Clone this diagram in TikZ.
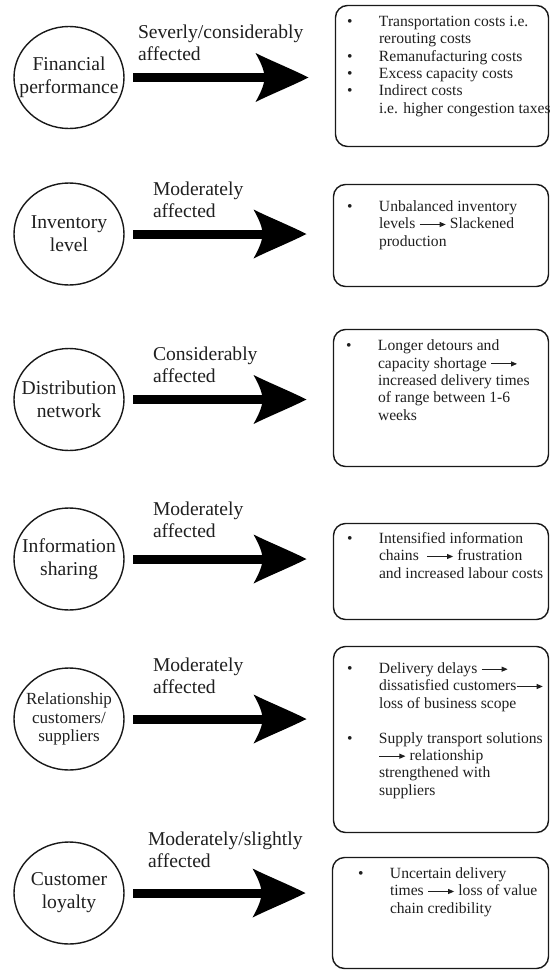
\documentclass[tikz,border=0pt]{standalone}
\usepackage{fontspec}
\setmainfont{Liberation Serif}
\usetikzlibrary{calc,shapes.geometric,arrows.meta}

% small inline arrow used inside the effect lists
\newcommand{\leadsarrow}{\tikz[baseline={-0.27em}]{\draw[line width=0.8pt,-{Triangle[length=6pt,width=5pt]}] (0pt,0pt) -- (26pt,0pt);}}
% bullet item helpers
\newcommand{\itm}{\makebox[32pt][l]{\textbullet}}
\newcommand{\cnt}{\hspace*{32pt}}

\begin{document}
\begin{tikzpicture}[x=1pt,y=-1pt,
  every node/.style={inner sep=0pt, outer sep=0pt, text=black!88},
  topic/.style={draw=black!90, line width=1.4pt, ellipse, minimum width=110pt,
    minimum height=102pt},
  topictext/.style={align=center, font=\fontsize{19.6}{23}\selectfont},
  effectbox/.style={draw=black!90, line width=1.4pt, rounded corners=12pt, rectangle},
  effecttext/.style={anchor=base west, align=left, font=\fontsize{15.6}{17.3}\selectfont},
  degree/.style={anchor=base west, align=left, font=\fontsize{19.6}{22}\selectfont},
  shaft/.style={draw=black, line width=9pt}]

\useasboundingbox (0,0) rectangle (550,972);

% impact areas
\node[topic] (c1) at (69,77.5) {};
\node[topic] (c2) at (69,234) {};
\node[topic] (c3) at (69,399.5) {};
\node[topic] (c4) at (69,559) {};
\node[topic] (c5) at (69,719) {};
\node[topic] (c6) at (69,893) {};
\node[topictext] (n1) at (c1.center) {Financial\\performance};
\node[topictext] (n2) at (c2.center) {Inventory\\level};
\node[topictext] (n3) at (c3.center) {Distribution\\network};
\node[topictext] (n4) at (c4.center) {Information\\sharing};
\node[topictext, font=\fontsize{17}{18.5}\selectfont] (n5) at (c5.center) {Relationship\\customers/\\suppliers};
\node[topictext] (n6) at (c6.center) {Customer\\loyalty};

% effect boxes
\node[effectbox, minimum width=213pt, minimum height=141pt] (b1) at (442,76) {};
\node[effectbox, minimum width=215pt, minimum height=102pt] (b2) at (441,235.5) {};
\node[effectbox, minimum width=215pt, minimum height=137pt] (b3) at (441,398) {};
\node[effectbox, minimum width=215pt, minimum height=96pt] (b4) at (441,571.5) {};
\node[effectbox, minimum width=215pt, minimum height=186pt] (b5) at (441,739.5) {};
\node[effectbox, minimum width=216pt, minimum height=111pt] (b6) at (440.5,913) {};

% degree of impact (anchored at the baseline of the last line)
\node[degree] (l1) at (138,60) {Severly/considerably\\affected};
\node[degree] (l2) at (153,217) {Moderately\\affected};
\node[degree] (l3) at (153,382) {Considerably\\affected};
\node[degree] (l4) at (153,537) {Moderately\\affected};
\node[degree] (l5) at (153,693) {Moderately\\affected};
\node[degree] (l6) at (148,867) {Moderately/slightly\\affected};

% effect lists (anchored at the baseline of the last line)
\node[effecttext] (t1) at (347,113) {\itm Transportation costs i.e.\\
  \cnt rerouting costs\\
  \itm Remanufacturing costs\\
  \itm Excess capacity costs\\
  \itm Indirect costs\\
  \cnt i.e. higher congestion taxes};
\node[effecttext] (t2) at (347,246) {\itm Unbalanced inventory\\
  \cnt levels \leadsarrow\ Slackened\\
  \cnt production};
\node[effecttext] (t3) at (346,420) {\itm Longer detours and\\
  \cnt capacity shortage \leadsarrow\\
  \cnt increased delivery times\\
  \cnt of range between 1-6\\
  \cnt weeks};
\node[effecttext] (t4) at (347,578) {\itm Intensified information\\
  \cnt chains \ \leadsarrow\ frustration\\
  \cnt and increased labour costs};
\node[effecttext] (t5) at (347,795) {\itm Delivery delays \leadsarrow\\
  \cnt dissatisfied customers\leadsarrow\\
  \cnt loss of business scope\\[17.8pt]
  \itm Supply transport solutions\\
  \cnt\leadsarrow\ relationship\\
  \cnt strengthened with\\
  \cnt suppliers};
\node[effecttext] (t6) at (358,913) {\itm Uncertain delivery\\
  \cnt times \leadsarrow\ loss of value\\
  \cnt chain credibility};

% heavy arrows from each area to its effects
\foreach \i in {1,...,6}{
  \coordinate (s\i) at ($(c\i.east)+(9,0)$);
  \coordinate (h\i) at ($(c\i.east -| b\i.west)+(-27,0)$);
  \draw[shaft] (s\i) -- ($(h\i)+(-42,0)$);
  \fill[black, shift={(h\i)}] (0,0) .. controls (-18,-9) and (-38,-17) .. (-53,-24.5)
    .. controls (-47,-14) and (-44,-6) .. (-44,0)
    .. controls (-44,6) and (-47,14) .. (-53,24.5)
    .. controls (-38,17) and (-18,9) .. (0,0) -- cycle;
}
\end{tikzpicture}
\end{document}
